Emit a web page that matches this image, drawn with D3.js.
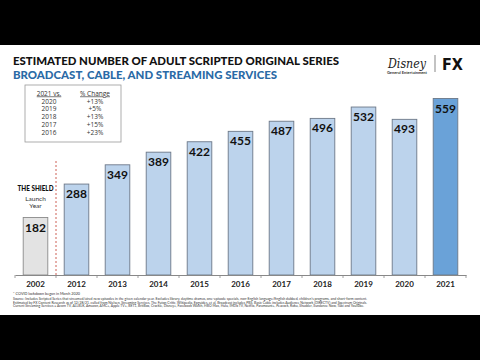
<!DOCTYPE html>
<html><head><meta charset="utf-8">
<script src="https://cdn.jsdelivr.net/npm/d3@7"></script>
<style>html,body{margin:0;padding:0;background:#000;}svg{display:block;}</style>
</head><body>
<script>
const years = ["2002","2012","2013","2014","2015","2016","2017","2018","2019","2020","2021"];
const seriesCounts = [182,288,349,389,422,455,487,496,532,493,559];
const tableYears = ["2020","2019","2018","2017","2016"];
const tableChanges = ["+13%","+5%","+13%","+15%","+23%"];

const W=480,H=360;
const svg=d3.select("body").append("svg").attr("width",W).attr("height",H);
svg.append("rect").attr("width",W).attr("height",H).attr("fill","#000");
svg.append("rect").attr("x",0).attr("y",45).attr("width",W).attr("height",270).attr("fill","#fff");

const font="Lato, 'Open Sans', sans-serif";
// Titles
svg.append("text").attr("x",13).attr("y",64.5).attr("font-family",font).attr("font-weight",900)
  .attr("font-size",11.5).attr("fill","#111").attr("textLength",326).attr("lengthAdjust","spacingAndGlyphs")
  .text("ESTIMATED NUMBER OF ADULT SCRIPTED ORIGINAL SERIES");
svg.append("text").attr("x",13).attr("y",78.5).attr("font-family",font).attr("font-weight",900)
  .attr("font-size",11.5).attr("fill","#2a6aa6").attr("textLength",264).attr("lengthAdjust","spacingAndGlyphs")
  .text("BROADCAST, CABLE, AND STREAMING SERVICES");

// Logo
svg.append("text").attr("x",407).attr("y",68).attr("text-anchor","middle").attr("font-family","'DejaVu Serif', serif")
  .attr("font-style","italic").attr("font-size",12).attr("fill","#222").attr("textLength",38).attr("lengthAdjust","spacingAndGlyphs").text("Disney");
svg.append("text").attr("x",407).attr("y",73.5).attr("text-anchor","middle").attr("font-family",font).attr("font-weight",700)
  .attr("font-size",3.2).attr("fill","#333").attr("textLength",40).attr("lengthAdjust","spacingAndGlyphs").text("General Entertainment");
svg.append("line").attr("x1",435).attr("x2",435).attr("y1",55).attr("y2",72).attr("stroke","#555").attr("stroke-width",0.7);
svg.append("text").attr("x",442).attr("y",69.5).attr("font-family","'DejaVu Sans', sans-serif").attr("font-weight",900)
  .attr("font-size",16).attr("fill","#111").attr("textLength",21).attr("lengthAdjust","spacingAndGlyphs").text("FX");

// Scales
const baseY=275;
const x=d3.scaleBand().domain(years).range([15,466]).paddingInner(0.4).paddingOuter(0.2);
const y=d3.scaleLinear().domain([0,559]).range([baseY,baseY-176.5]);

// Bars
const colorFor=(yr)=> yr==="2002" ? "#e3e3e3" : (yr==="2021" ? "#6aa2d8" : "#bcd3ec");
svg.append("g").selectAll("rect").data(years).join("rect")
  .attr("x",d=>x(d)).attr("width",x.bandwidth())
  .attr("y",(d,i)=>y(seriesCounts[i])).attr("height",(d,i)=>baseY-y(seriesCounts[i]))
  .attr("fill",colorFor).attr("stroke",d=>d==="2002"?"#8a8a8a":"#6c7888").attr("stroke-width",0.9);

// Value labels
svg.append("g").selectAll("text").data(years).join("text")
  .attr("x",d=>x(d)+x.bandwidth()/2).attr("y",(d,i)=>y(seriesCounts[i])+14)
  .attr("text-anchor","middle").attr("font-family",font).attr("font-weight",700)
  .attr("font-size",12).attr("fill","#111").text((d,i)=>seriesCounts[i]);

// Axis
const axis=d3.axisBottom(x).tickSize(0).tickPadding(6);
const ag=svg.append("g").attr("transform",`translate(0,${baseY})`).call(axis);
ag.select(".domain").attr("stroke","#888").attr("stroke-width",1);
ag.selectAll("text").attr("font-family",font).attr("font-weight",700).attr("font-size",8).attr("fill","#222");
// tick marks between bands
const sepYears=years.slice(1);
svg.append("g").selectAll("line").data(sepYears).join("line")
  .attr("x1",d=>x(d)-x.step()*x.paddingInner()/2).attr("x2",d=>x(d)-x.step()*x.paddingInner()/2)
  .attr("y1",baseY).attr("y2",baseY+3).attr("stroke","#888").attr("stroke-width",0.8);
[15,466].forEach(v=>svg.append("line").attr("x1",v).attr("x2",v).attr("y1",baseY).attr("y2",baseY+3).attr("stroke","#888").attr("stroke-width",0.8));

// Dashed red line
const sepX=x("2012")-x.step()*x.paddingInner()/2;
svg.append("line").attr("x1",sepX).attr("x2",sepX).attr("y1",161).attr("y2",baseY)
  .attr("stroke","#c0392b").attr("stroke-width",0.8).attr("stroke-dasharray","2,2");

// The Shield annotation
const cx2002=x("2002")+x.bandwidth()/2;
svg.append("text").attr("x",cx2002).attr("y",190.5).attr("text-anchor","middle").attr("font-family",font)
  .attr("font-weight",900).attr("font-size",7).attr("fill","#111").attr("textLength",36).attr("lengthAdjust","spacingAndGlyphs").text("THE SHIELD");
svg.append("text").attr("x",cx2002).attr("y",201).attr("text-anchor","middle").attr("font-family",font)
  .attr("font-size",6.5).attr("fill","#333").text("Launch");
svg.append("text").attr("x",cx2002).attr("y",208).attr("text-anchor","middle").attr("font-family",font)
  .attr("font-size",6.5).attr("fill","#333").text("Year");

// Table
svg.append("rect").attr("x",25).attr("y",85).attr("width",96).attr("height",57)
  .attr("fill","#fff").attr("stroke","#999").attr("stroke-width",0.8);
const tf="'Open Sans', sans-serif";
const hdr=[["2021 vs.",49],["% Change",95]];
hdr.forEach(([t,cx])=>{
  const tx=svg.append("text").attr("x",cx).attr("y",95.5).attr("text-anchor","middle").attr("font-family",tf)
    .attr("font-size",6.5).attr("fill","#333").attr("text-decoration","underline").text(t);
});
tableYears.forEach((yr,i)=>{
  const ty=103.5+i*7.9;
  svg.append("text").attr("x",49).attr("y",ty).attr("text-anchor","middle").attr("font-family",tf)
    .attr("font-size",6.5).attr("fill","#333").text(yr);
  svg.append("text").attr("x",95).attr("y",ty).attr("text-anchor","middle").attr("font-family",tf)
    .attr("font-size",6.5).attr("fill","#333").text(tableChanges[i]);
});

// Footnotes
svg.append("text").attr("x",13).attr("y",294.5).attr("font-family",font).attr("font-size",3.6).attr("fill","#333")
  .attr("textLength",67).attr("lengthAdjust","spacingAndGlyphs").text("* COVID lockdown began in March 2020");
const notes=[
 "Source: Includes Scripted Series that streamed/aired new episodes in the given calendar year. Excludes library, daytime dramas, one-episode specials, non-English language/English dubbed, children's programs, and short-form content.",
 "Estimated by FX Content Research as of 12/28/21, culled from Nielsen, Streaming Services, The Futon Critic, Wikipedia, Epguides, et al. Broadcast includes PBS. Basic Cable includes Audience Network (DIRECTV) and Spectrum Originals.",
 "Current Streaming Services = Acorn TV, ALLBLK, Amazon, AMC+, Apple TV+, BET+, BritBox, Crackle, Disney+, Facebook Watch, HBO Max, Hulu, IMDb TV, Netflix, Paramount+, Peacock, Roku, Shudder, Sundance Now, Tubi and YouTube."
];
const nlen=[354,354,351];
notes.forEach((t,i)=>svg.append("text").attr("x",13).attr("y",300+i*3.7).attr("font-family",font)
  .attr("font-size",3.4).attr("fill","#333").attr("textLength",nlen[i]).attr("lengthAdjust","spacingAndGlyphs").text(t));
</script>
</body></html>
